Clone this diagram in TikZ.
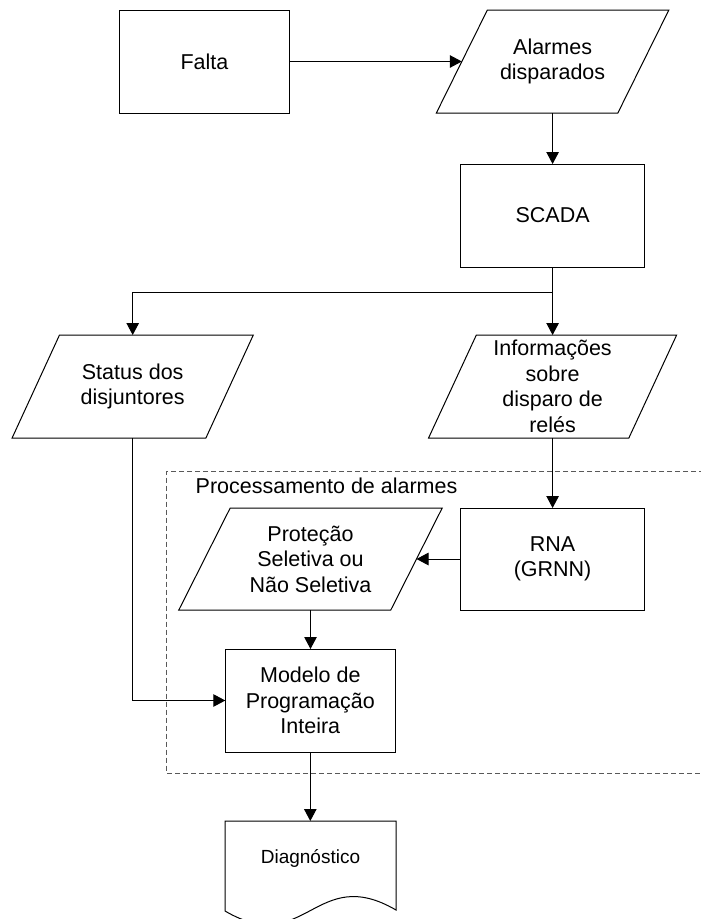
\documentclass[tikz,border=0pt]{standalone}
\usepackage{fontspec}
\setmainfont{Liberation Sans}
\usetikzlibrary{arrows.meta}
\newcommand\drawpara[2]{\draw[boxline] ([xshift=#2]#1.north west) -- ([xshift=#2]#1.north east) -- ([xshift=-#2]#1.south east) -- ([xshift=-#2]#1.south west) -- cycle;}
\begin{document}
\begin{tikzpicture}[x=1pt,y=-1pt,
  every node/.style={inner sep=0pt, outer sep=0pt, font=\fontsize{21.5}{25.5}\selectfont, align=center},
  box/.style={draw, line width=1pt, minimum width=#1, minimum height=103pt},
  box/.default=170pt,
  para/.style={minimum width=#1, minimum height=103pt},
  conn/.style={line width=1pt, -{Triangle[length=12pt,width=12.5pt]}},
  plain/.style={line width=1pt},
  boxline/.style={line width=1pt, line join=miter},
  dashbox/.style={draw=black!65, line width=1pt, dash pattern=on 5pt off 3pt},
  smalltext/.style={font=\fontsize{19}{23}\selectfont}
]
\useasboundingbox (0,0) rectangle (701,919);
\clip (0,0) rectangle (701,919);
\fill[white] (0,0) rectangle (701,919);

% processing frame
\draw[dashbox] (720,471) -- (166.5,471) -- (166.5,773) -- (720,773);
\node[anchor=base west] (proclabel) at (195.7,493.3) {Processamento de alarmes};

% nodes
\node[box=170.3pt] (falta) at (204.5,61.5) {Falta};
\node[para=181.5pt] (alarmes) at (552.6,61.5) {Alarmes\\disparados};
\drawpara{alarmes}{25.5pt}
\node[box=184pt] (scada) at (552.6,215.5) {SCADA};
\node[para=193.8pt] (status) at (132.7,386.5) {Status dos\\disjuntores};
\drawpara{status}{23.7pt}
\node[para=200.3pt] (info) at (552.6,386.5) {Informações\\sobre\\disparo de\\relés};
\drawpara{info}{23.9pt}
\node[para=212pt, minimum height=102pt] (protec) at (310.5,559) {Proteção\\Seletiva ou\\Não Seletiva};
\drawpara{protec}{25.7pt}
\node[box=183.3pt, minimum height=102pt] (rna) at (552.6,559) {RNA\\(GRNN)};
\node[box=170pt] (modelo) at (310.3,700.5) {Modelo de\\Programação\\Inteira};
\node[smalltext, minimum width=171pt, minimum height=74pt] (diag) at (310.5,858) {Diagnóstico};
\draw[boxline] (diag.north west) -- (diag.north east) -- ([yshift=-89pt]diag.north east)
  .. controls +(-80.4,-47) and +(80.4,47) .. ([yshift=-90pt]diag.north west) -- cycle;

% connectors
\coordinate (split) at ([yshift=-25pt]scada.south);
\draw[conn] (falta) -- (alarmes);
\draw[conn] (alarmes) -- (scada);
\draw[plain] (scada.south) -- (split);
\draw[conn] (split) -- (info.north);
\draw[conn] (split) -| (status.north);
\draw[conn] (info.south) -- (rna.north);
\draw[conn] (rna) -- (protec);
\draw[conn] (protec.south) -- (protec.south |- modelo.north);
\draw[conn] (status.south) |- (modelo.west);
\draw[conn] (modelo.south) -- (modelo.south |- diag.north);
\end{tikzpicture}
\end{document}
